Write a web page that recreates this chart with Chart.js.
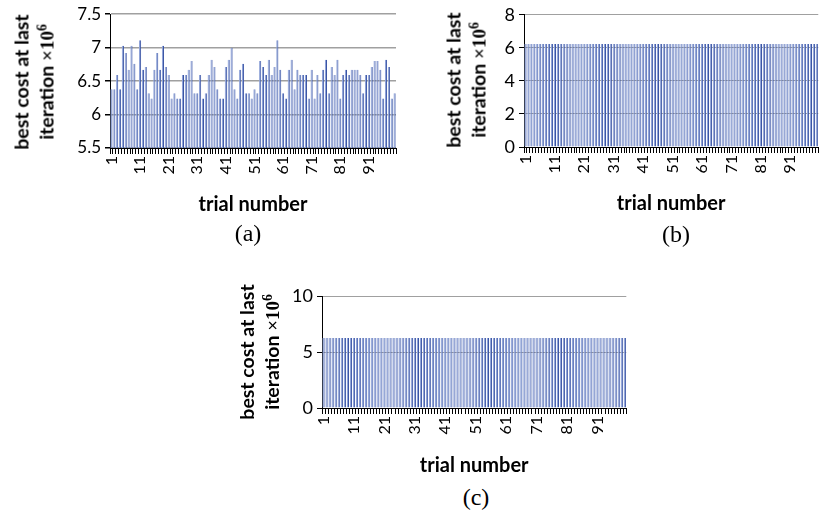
<!DOCTYPE html>
<html><head><meta charset="utf-8">
<script src="https://cdn.jsdelivr.net/npm/chart.js@4.4.0/dist/chart.umd.min.js"></script>
<style>
html,body{margin:0;padding:0;background:#fff;width:822px;height:513px;overflow:hidden;position:relative}
canvas{position:absolute}
.ytitle{position:absolute;transform:translate(-50%,-50%) rotate(-90deg);white-space:nowrap;text-align:center;font:bold 19.5px Lato,sans-serif;line-height:25px;color:#000}
.ser{font-family:'Liberation Serif',serif;font-weight:bold;font-size:19px}
.ser sup{font-size:0.72em;line-height:0;vertical-align:0.5em}
.cap{position:absolute;transform:translate(-50%,-50%);font:24px 'Liberation Serif',serif;color:#000;white-space:nowrap}
</style></head><body>
<canvas id="ca" width="420" height="230" style="left:0;top:0"></canvas>
<canvas id="cb" width="438" height="230" style="left:400px;top:0"></canvas>
<canvas id="cc" width="426" height="200" style="left:220px;top:280px"></canvas>
<div class="ytitle" style="left:34px;top:82px"><div>best cost at last</div><div>iteration <span class="ser">×10<sup>6</sup></span></div></div>
<div class="ytitle" style="left:466px;top:80px"><div>best cost at last</div><div>iteration <span class="ser">×10<sup>6</sup></span></div></div>
<div class="ytitle" style="left:259px;top:352px"><div>best cost at last</div><div>iteration <span class="ser">×10<sup>6</sup></span></div></div>
<div class="cap" style="left:248px;top:233px">(a)</div>
<div class="cap" style="left:676px;top:234px">(b)</div>
<div class="cap" style="left:476px;top:497px">(c)</div>
<script>
const trials = ['1','2','3','4','5','6','7','8','9','10','11','12','13','14','15','16','17','18','19','20',
'21','22','23','24','25','26','27','28','29','30','31','32','33','34','35','36','37','38','39','40',
'41','42','43','44','45','46','47','48','49','50','51','52','53','54','55','56','57','58','59','60',
'61','62','63','64','65','66','67','68','69','70','71','72','73','74','75','76','77','78','79','80',
'81','82','83','84','85','86','87','88','89','90','91','92','93','94','95','96','97','98','99','100'];

const costsA = [6.38,6.38,6.59,6.38,7.03,6.92,6.67,7.03,6.76,6.38,
7.11,6.67,6.71,6.32,6.24,6.67,6.92,6.67,7.03,6.71,
6.59,6.24,6.32,6.24,6.24,6.59,6.59,6.67,6.80,6.32,
6.32,6.59,6.24,6.32,6.59,6.82,6.71,6.38,6.24,6.24,
6.71,6.82,7.00,6.38,6.24,6.67,6.76,6.32,6.32,6.24,
6.38,6.32,6.80,6.71,6.59,6.82,6.59,6.71,7.11,6.67,
6.32,6.24,6.67,6.82,6.38,6.67,6.59,6.59,6.59,6.24,
6.67,6.24,6.59,6.32,6.67,6.82,6.32,6.71,6.59,6.82,
6.24,6.59,6.67,6.59,6.67,6.67,6.67,6.59,6.32,6.59,
6.59,6.71,6.80,6.80,6.67,6.24,6.82,6.71,6.24,6.32];

const costsB = [6.24,6.24,6.24,6.24,6.24,6.24,6.24,6.24,6.24,6.24,
6.24,6.24,6.24,6.24,6.24,6.24,6.24,6.24,6.24,6.24,
6.24,6.24,6.24,6.24,6.24,6.24,6.24,6.24,6.24,6.24,
6.24,6.24,6.24,6.24,6.24,6.24,6.24,6.24,6.24,6.24,
6.24,6.24,6.24,6.24,6.24,6.24,6.24,6.24,6.24,6.24,
6.24,6.24,6.24,6.24,6.24,6.24,6.24,6.24,6.24,6.24,
6.24,6.24,6.24,6.24,6.24,6.24,6.24,6.24,6.24,6.24,
6.24,6.24,6.24,6.24,6.24,6.24,6.24,6.24,6.24,6.24,
6.24,6.24,6.24,6.24,6.24,6.24,6.24,6.24,6.24,6.24,
6.24,6.24,6.24,6.24,6.24,6.24,6.24,6.24,6.24,6.24];

const costsC = [6.24,6.24,6.24,6.24,6.24,6.24,6.24,6.24,6.24,6.24,
6.24,6.24,6.24,6.24,6.24,6.24,6.24,6.24,6.24,6.24,
6.24,6.24,6.24,6.24,6.24,6.24,6.24,6.24,6.24,6.24,
6.24,6.24,6.24,6.24,6.24,6.24,6.24,6.24,6.24,6.24,
6.24,6.24,6.24,6.24,6.24,6.24,6.24,6.24,6.24,6.24,
6.24,6.24,6.24,6.24,6.24,6.24,6.24,6.24,6.24,6.24,
6.24,6.24,6.24,6.24,6.24,6.24,6.24,6.24,6.24,6.24,
6.24,6.24,6.24,6.24,6.24,6.24,6.24,6.24,6.24,6.24,
6.24,6.24,6.24,6.24,6.24,6.24,6.24,6.24,6.24,6.24,
6.24,6.24,6.24,6.24,6.24,6.24,6.24,6.24,6.24,6.24];

const yTicksA = {min:5.5, max:7.5, step:0.5};
const yTicksB = {min:0, max:8, step:2};
const yTicksC = {min:0, max:10, step:5};
const xTitle = 'trial number';

function makeChart(id, data, yt, cfg) {
  new Chart(document.getElementById(id), {
    type: 'bar',
    data: { labels: trials, datasets: [{
      data: data,
      backgroundColor: '#8fa3d8',
      borderColor: '#3a54a4',
      borderWidth: {left:0, right:1, top:0, bottom:0},
      borderSkipped: false,
      barPercentage: 0.75,
      categoryPercentage: 1
    }]},
    options: {
      responsive: false, animation: false, devicePixelRatio: 1,
      layout: { padding: cfg.pad },
      plugins: { legend:{display:false}, tooltip:{enabled:false}, title:{display:false} },
      scales: {
        x: {
          offset: true,
          grid: { display:true, drawOnChartArea:false, drawTicks:true, tickLength:6, color:'#000', lineWidth:1, offset:true },
          border: { display:true, color:'#000', width:1 },
          ticks: { autoSkip:false, maxRotation:90, minRotation:90, padding:2,
                   font:{family:'Lato', size:16}, color:'#000',
                   callback: function(v, i){ return (i % 10 === 0) ? trials[i] : ''; } },
          title: { display:true, text:xTitle, color:'#000', font:{family:'Lato', size:20, weight:'bold'},
                   padding:{top:0, bottom:cfg.titlePad} },
          afterFit: function(s){ s.height = cfg.xh; }
        },
        y: {
          min: yt.min, max: yt.max,
          grid: { color:'#a0a0a0', lineWidth:cfg.gw, tickColor:'#000', tickLength:5, drawTicks:true },
          border: { display:true, color:'#000', width:1 },
          ticks: { stepSize: yt.step, padding:4, font:{family:'Lato', size:cfg.yfs}, color:'#000',
                   callback: function(v){ return String(Math.round(v*10)/10); } },
          afterFit: function(s){ s.width = cfg.yw; }
        }
      }
    }
  });
}

makeChart('ca', costsA, yTicksA, {pad:{left:0, top:14, right:24, bottom:0}, xh:82, yw:110, titlePad:13, gw:1.5, yfs:17});
makeChart('cb', costsB, yTicksB, {pad:{left:0, top:13, right:1, bottom:0}, xh:83, yw:124, titlePad:14, gw:1, yfs:18});
makeChart('cc', costsC, yTicksC, {pad:{left:0, top:16, right:0, bottom:0}, xh:72, yw:102, titlePad:2, gw:1, yfs:18});
</script>
</body></html>
